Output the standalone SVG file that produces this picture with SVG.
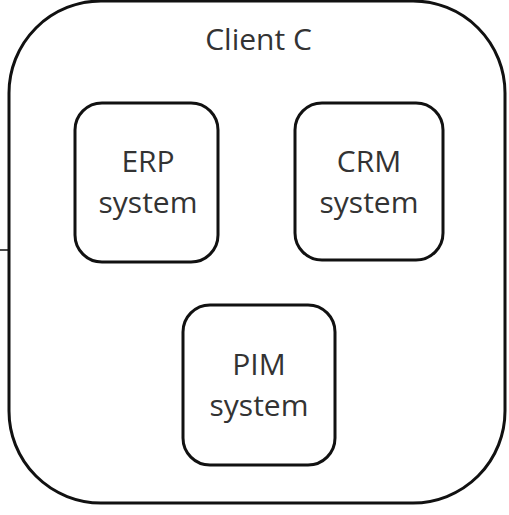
<svg xmlns="http://www.w3.org/2000/svg" width="509" height="515" viewBox="0 0 509 515">
<style>
.box{fill:#fff;stroke:#111;stroke-width:3}
.lbl{font-family:"Open Sans",sans-serif;font-size:30px;fill:#333;text-anchor:middle}
.conn{stroke:#111;stroke-width:1.5;fill:none}
</style>
<rect width="509" height="515" fill="#fff"/>
<g id="client-c">
<rect class="box" x="9" y="1" width="496" height="502" rx="92" ry="92"/>
<text class="lbl" x="258.5" y="50">Client C</text>
</g>
<g id="erp">
<rect class="box" x="75" y="103" width="143" height="159" rx="27" ry="27"/>
<text class="lbl" x="148" y="172">ERP</text>
<text class="lbl" x="148" y="213">system</text>
</g>
<g id="crm">
<rect class="box" x="295" y="103" width="148" height="157" rx="27" ry="27"/>
<text class="lbl" x="369" y="172">CRM</text>
<text class="lbl" x="369" y="213">system</text>
</g>
<g id="pim">
<rect class="box" x="183" y="305" width="152" height="160" rx="27" ry="27"/>
<text class="lbl" x="259" y="375">PIM</text>
<text class="lbl" x="259" y="416">system</text>
</g>
<g id="connectors">
<line class="conn" x1="0" y1="250" x2="8" y2="250"/>
</g>
</svg>
